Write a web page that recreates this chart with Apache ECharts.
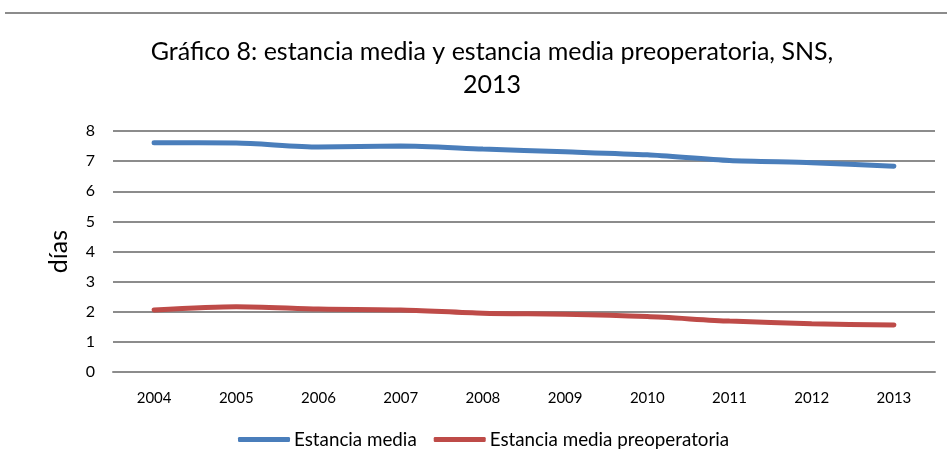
<!DOCTYPE html>
<html>
<head>
<meta charset="utf-8">
<script src="https://cdn.jsdelivr.net/npm/echarts@6/dist/echarts.min.js"></script>
<style>
  html, body { margin: 0; padding: 0; background: #fff; }
  #chart { width: 947px; height: 471px; }
</style>
</head>
<body>
<div id="chart"></div>
<script>
// datos
const years = ['2004', '2005', '2006', '2007', '2008', '2009', '2010', '2011', '2012', '2013']
const estanciaMedia = [7.61, 7.60, 7.47, 7.50, 7.40, 7.31, 7.21, 7.02, 6.95, 6.83]
const estanciaPreop = [2.06, 2.17, 2.09, 2.06, 1.95, 1.92, 1.84, 1.69, 1.60, 1.56]
const yTicks = [0, 1, 2, 3, 4, 5, 6, 7, 8]

const font = 'Lato, "Open Sans", sans-serif'
const chart = echarts.init(document.getElementById('chart'))

const option = {
  animation: false,
  backgroundColor: '#fff',
  title: {
    text: 'Gráfico 8: estancia media y estancia media preoperatoria, SNS,\n2013',
    left: 487,
    textAlign: 'center',
    top: 30,
    textStyle: {
      fontFamily: font,
      fontSize: 25,
      fontWeight: 'normal',
      color: '#000',
      lineHeight: 33
    }
  },
  legend: {
    bottom: 17,
    left: 233,
    itemWidth: 52,
    itemHeight: 5,
    itemGap: 17,
    icon: 'roundRect',
    textStyle: { fontFamily: font, fontSize: 18.8, color: '#000', padding: [0, 0, 0, -1] },
    data: ['Estancia media', 'Estancia media preoperatoria']
  },
  grid: {
    left: 113,
    right: 12,
    top: 131,
    bottom: 99
  },
  xAxis: {
    type: 'category',
    data: years,
    boundaryGap: true,
    axisLine: { show: true, lineStyle: { color: '#8c8c8c', width: 2 } },
    axisTick: { show: false },
    axisLabel: { fontFamily: font, fontSize: 15, color: '#000', margin: 19 }
  },
  yAxis: {
    type: 'value',
    min: yTicks[0],
    max: yTicks[yTicks.length - 1],
    interval: 1,
    name: 'días',
    nameLocation: 'middle',
    nameGap: 42,
    nameRotate: 90,
    nameTextStyle: { fontFamily: font, fontSize: 25, color: '#000' },
    axisLine: { show: false },
    axisTick: { show: false },
    axisLabel: { fontFamily: font, fontSize: 16, color: '#000', margin: 18 },
    splitLine: { lineStyle: { color: '#8c8c8c', width: 2 } }
  },
  series: [
    {
      name: 'Estancia media',
      type: 'line',
      data: estanciaMedia,
      smooth: 0.25,
      showSymbol: false,
      lineStyle: { color: '#4a7ebb', width: 5, cap: 'round' },
      itemStyle: { color: '#4a7ebb' }
    },
    {
      name: 'Estancia media preoperatoria',
      type: 'line',
      data: estanciaPreop,
      smooth: 0.25,
      showSymbol: false,
      lineStyle: { color: '#be4b48', width: 5, cap: 'round' },
      itemStyle: { color: '#be4b48' }
    }
  ],
  graphic: [
    {
      type: 'line',
      shape: { x1: 5, y1: 13, x2: 947, y2: 13 },
      style: { stroke: '#8c8c8c', lineWidth: 2 }
    }
  ]
}
chart.setOption(option)
</script>
</body>
</html>
